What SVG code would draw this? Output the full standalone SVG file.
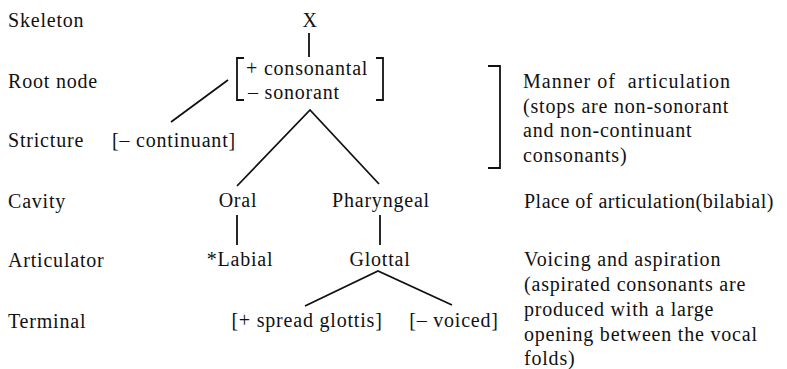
<svg xmlns="http://www.w3.org/2000/svg" width="787" height="369" viewBox="0 0 787 369">
<style>
text{font-family:"Liberation Serif","Times New Roman",serif;font-size:20px;fill:#111;letter-spacing:0.8px}
.m{text-anchor:middle}
.ln{stroke:#111;stroke-width:1.8;fill:none;stroke-linecap:butt}
</style>
<rect width="787" height="369" fill="#fff"/>
<g id="tier-labels">
<text x="8" y="27">Skeleton</text>
<text x="8" y="88">Root node</text>
<text x="8" y="147">Stricture</text>
<text x="8" y="208">Cavity</text>
<text x="8" y="267">Articulator</text>
<text x="8" y="328">Terminal</text>
</g>
<g id="connectors" class="ln">
<line x1="309" y1="33" x2="309" y2="57"/>
<line x1="228" y1="80" x2="171" y2="122"/>
<polyline points="237,186 310,110 379,184"/>
<line x1="237" y1="215" x2="237" y2="245"/>
<line x1="380" y1="215" x2="380" y2="245"/>
<polyline points="305,306 378,271 452,305"/>
</g>
<g id="node-skeleton"><text class="m" x="310" y="27">X</text></g>
<g id="node-root">
<path class="ln" d="M244,58 H237 V100 H244"/>
<path class="ln" d="M376,58 H383 V100 H376"/>
<text x="246" y="75">+ consonantal</text>
<text x="248" y="99">– sonorant</text>
</g>
<g id="node-stricture"><text x="112" y="147">[– continuant]</text></g>
<g id="node-oral"><text class="m" x="238" y="207">Oral</text></g>
<g id="node-pharyngeal"><text class="m" x="381" y="207">Pharyngeal</text></g>
<g id="node-labial"><text class="m" x="240" y="266">*Labial</text></g>
<g id="node-glottal"><text class="m" x="380" y="266">Glottal</text></g>
<g id="node-spread"><text class="m" x="307" y="327">[+ spread glottis]</text></g>
<g id="node-voiced"><text class="m" x="454" y="327">[– voiced]</text></g>
<g id="notes">
<path class="ln" d="M488,66 H500 V168 H488"/>
<text x="523" y="88" style="white-space:pre;letter-spacing:1px">Manner of  articulation</text>
<text x="523" y="113">(stops are non-sonorant</text>
<text x="523" y="137">and non-continuant</text>
<text x="523" y="162">consonants)</text>
<text x="524" y="208" style="letter-spacing:0.5px">Place of articulation(bilabial)</text>
<text x="524" y="266">Voicing and aspiration</text>
<text x="524" y="291">(aspirated consonants are</text>
<text x="524" y="316">produced with a large</text>
<text x="524" y="341">opening between the vocal</text>
<text x="524" y="365">folds)</text>
</g>
</svg>
